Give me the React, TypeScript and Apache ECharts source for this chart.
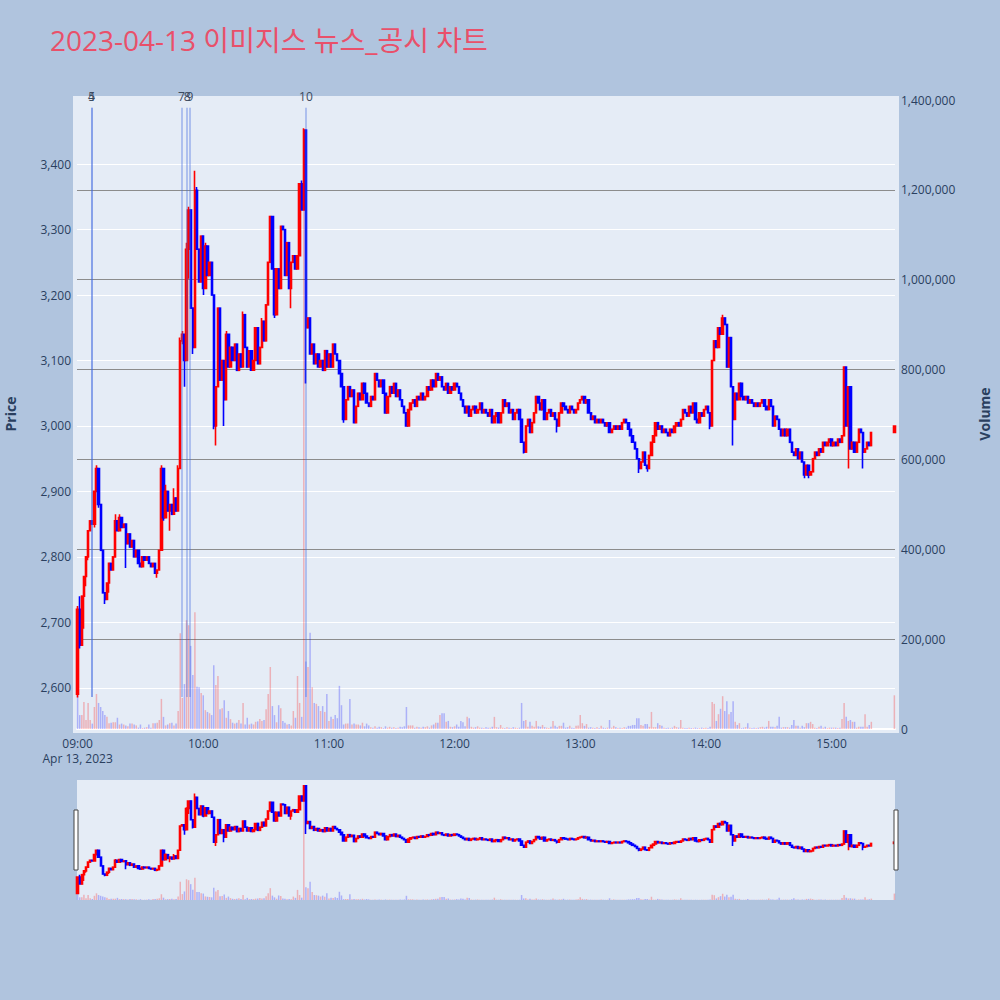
import React, { useEffect, useRef } from "react";
import * as echarts from "echarts";

// ---- session data (1-minute bars, minute 0 = 09:00) ----
const TITLE = "2023-04-13 이미지스 뉴스_공시 차트";
const SESSION_DATE = "Apr 13, 2023";
const FIRST_OPEN = 2590;

// closing price of every minute from 09:00 to 15:19
const CLOSES = [
  2720, 2665, 2740, 2770, 2800, 2840, 2855, 2850, 2900, 2935,
  2880, 2810, 2745, 2735, 2760, 2790, 2780, 2800, 2855, 2840,
  2860, 2845, 2850, 2820, 2835, 2815, 2825, 2800, 2810, 2790,
  2785, 2800, 2795, 2800, 2790, 2785, 2790, 2775, 2780, 2810,
  2935, 2860, 2900, 2870, 2880, 2865, 2890, 2870, 2935, 3130,
  3140, 3100, 3270, 3330, 3180, 3120, 3360, 3270, 3220, 3290,
  3210, 3275, 3230, 3250, 3200, 3000, 3060, 3180, 3070, 3100,
  3040, 3140, 3090, 3120, 3100, 3125, 3085, 3110, 3090, 3170,
  3120, 3090, 3115, 3085, 3100, 3150, 3095, 3120, 3160, 3130,
  3185, 3250, 3320, 3240, 3170, 3240, 3210, 3305, 3300, 3230,
  3280, 3210, 3250, 3260, 3240, 3260, 3370, 3330, 3452, 3150,
  3165, 3110, 3125, 3095, 3110, 3090, 3100, 3085, 3115, 3090,
  3110, 3090, 3125, 3110, 3100, 3080, 3060, 3010, 3040, 3060,
  3045, 3055, 3005, 3030, 3050, 3040, 3065, 3050, 3035, 3030,
  3045, 3040, 3080, 3070, 3060, 3070, 3050, 3020, 3045, 3060,
  3050, 3065, 3045, 3055, 3040, 3030, 3020, 3000, 3025, 3035,
  3040, 3030, 3045, 3040, 3050, 3040, 3045, 3060, 3055, 3070,
  3060, 3080, 3070, 3075, 3060, 3055, 3065, 3050, 3060, 3055,
  3065, 3060, 3050, 3040, 3030, 3020, 3030, 3015, 3025, 3030,
  3020, 3025, 3035, 3020, 3025, 3020, 3015, 3025, 3005, 3015,
  3020, 3005, 3020, 3040, 3030, 3035, 3020, 3025, 3010, 3020,
  3025, 3010, 2975, 2960, 3000, 3010, 2990, 3005, 3020, 3045,
  3035, 3025, 3040, 3010, 3020, 3025, 3015, 3020, 3010, 3000,
  3020, 3035, 3030, 3025, 3020, 3030, 3025, 3020, 3025, 3035,
  3040, 3045, 3035, 3040, 3020, 3010, 3015, 3005, 3010, 3005,
  3010, 3005, 3000, 3005, 2990, 2995, 3000, 2995, 3000, 2995,
  3005, 3010, 3005, 2995, 2985, 2975, 2965, 2950, 2935, 2945,
  2960, 2940, 2935, 2955, 2975, 2985, 3005, 2995, 3000, 2990,
  2995, 2990, 2985, 2995, 2990, 3000, 3005, 3000, 3010, 3025,
  3020, 3015, 3030, 3020, 3035, 3010, 3005, 3020, 3015, 3025,
  3030, 3020, 3000, 3100, 3130, 3120, 3150, 3140, 3165, 3155,
  3090, 3135, 3060, 3010, 3050, 3040, 3065, 3045, 3040, 3045,
  3035, 3040, 3035, 3030, 3035, 3030, 3035, 3040, 3030, 3025,
  3040, 3030, 3000, 3015, 3010, 2995, 2985, 2995, 2985, 2995,
  2975, 2960, 2955, 2965, 2950, 2960, 2945, 2925, 2940, 2925,
  2930, 2950, 2960, 2955, 2965, 2960, 2975, 2970, 2975, 2980,
  2970, 2975, 2970, 2980, 2975, 2985, 3090, 3000, 3060, 2965,
  2975, 2960, 2975, 2995, 2990, 2960, 2965, 2975, 2970, 2990,
];

// traded volume of every minute, in thousands of shares
const VOLUMES_K = [
  75, 31, 31, 60, 20, 58, 20, 12, 49, 78,
  58, 49, 40, 31, 27, 13, 14, 15, 15, 25,
  10, 12, 10, 8, 6, 12, 12, 10, 8, 3,
  10, 2, 3, 4, 10, 3, 13, 13, 14, 20,
  67, 27, 8, 10, 13, 14, 8, 12, 40, 213,
  69, 100, 242, 231, 185, 120, 260, 94, 93, 80,
  75, 42, 38, 35, 31, 142, 98, 118, 44, 46,
  64, 25, 40, 22, 14, 12, 14, 20, 12, 58,
  10, 25, 10, 12, 10, 16, 17, 22, 18, 20,
  44, 78, 138, 51, 31, 15, 53, 46, 18, 14,
  10, 11, 8, 40, 25, 118, 58, 27, 1333, 150,
  138, 214, 93, 58, 56, 51, 40, 51, 38, 78,
  18, 27, 22, 31, 24, 96, 53, 10, 12, 12,
  67, 10, 12, 10, 10, 8, 14, 6, 12, 8,
  4, 3, 6, 3, 5, 4, 2, 6, 3, 5,
  3, 4, 2, 3, 5, 4, 6, 49, 8, 8,
  8, 3, 5, 4, 3, 5, 4, 6, 3, 8,
  10, 14, 14, 31, 35, 35, 16, 18, 5, 4,
  6, 10, 5, 18, 15, 6, 27, 24, 5, 3,
  4, 6, 3, 3, 2, 4, 3, 3, 5, 27,
  4, 3, 9, 3, 2, 4, 3, 2, 4, 3,
  2, 3, 58, 18, 20, 5, 16, 7, 5, 18,
  6, 5, 9, 4, 3, 2, 5, 18, 7, 4,
  7, 7, 14, 3, 4, 7, 3, 2, 7, 8,
  31, 13, 7, 11, 3, 4, 3, 2, 4, 2,
  7, 3, 2, 3, 20, 3, 7, 4, 2, 3,
  2, 4, 3, 7, 7, 9, 9, 24, 24, 9,
  7, 11, 11, 5, 38, 4, 4, 13, 9, 7,
  3, 2, 3, 2, 3, 7, 4, 3, 20, 3,
  2, 2, 3, 2, 2, 3, 2, 2, 3, 2,
  3, 2, 5, 60, 56, 18, 33, 45, 73, 40,
  62, 33, 38, 62, 16, 9, 13, 2, 3, 4,
  13, 3, 2, 3, 2, 3, 4, 5, 3, 5,
  18, 5, 5, 4, 7, 27, 3, 4, 4, 4,
  3, 9, 20, 7, 7, 3, 7, 4, 13, 13,
  16, 11, 3, 2, 5, 7, 3, 5, 2, 3,
  3, 3, 3, 2, 3, 22, 58, 27, 18, 20,
  16, 16, 3, 5, 5, 5, 33, 5, 9, 16,
];

// closing single-price auction at 15:30
const CLOSING_MINUTE = 390;
const CLOSING_PRICE = 3000;
const CLOSING_VOLUME_K = 75;

// [minute, low, high] for bars whose shadows reach past the body
const WICKS = [
  [0, 2585, 2725], [1, 2660, 2740], [3, 2690, 2770], [4, 2755, 2800], [5, 2795, 2840],
  [8, 2845, 2900], [9, 2900, 2940], [10, 2875, 2935], [13, 2728, 2745], [15, 2745, 2790],
  [18, 2800, 2865], [20, 2840, 2865], [23, 2783, 2845], [38, 2768, 2780], [40, 2810, 2940],
  [41, 2855, 2935], [42, 2860, 2910], [44, 2840, 2880], [46, 2865, 2905], [48, 2875, 2940],
  [49, 2935, 3135], [50, 3125, 3145], [51, 3060, 3140], [52, 3100, 3280], [53, 3225, 3335],
  [54, 3180, 3330], [55, 3110, 3180], [56, 3120, 3390], [57, 3270, 3365], [60, 3200, 3290],
  [61, 3210, 3280], [65, 2995, 3200], [66, 2970, 3060], [67, 3060, 3180], [70, 3000, 3100],
  [71, 3040, 3145], [79, 3090, 3175], [80, 3120, 3170], [88, 3120, 3165], [92, 3250, 3320],
  [94, 3165, 3240], [102, 3180, 3250], [106, 3260, 3370], [107, 3330, 3375], [108, 3330, 3455],
  [109, 3065, 3452], [127, 3005, 3060], [212, 2975, 3010], [213, 2958, 2975], [229, 2990, 3010],
  [268, 2928, 2950], [272, 2930, 2940], [302, 2995, 3020], [308, 3140, 3170], [313, 2970, 3060],
  [347, 2920, 2945], [349, 2920, 2940], [366, 2985, 3090], [367, 3000, 3090], [368, 2935, 3060],
  [375, 2935, 2990],
];

// disclosure / news items, placed at their release minute
const NEWS = [
  { label: "4", minute: 6.6 },
  { label: "5", minute: 6.75 },
  { label: "7", minute: 49.6 },
  { label: "8", minute: 52.3 },
  { label: "9", minute: 53.6 },
  { label: "10", minute: 109 },
];
const NEWS_LINE_LOW = 2586;
const NEWS_LINE_HIGH = 3486;

const PRICE_TICKS = [2600, 2700, 2800, 2900, 3000, 3100, 3200, 3300, 3400];
const VOLUME_TICKS = [0, 200000, 400000, 600000, 800000, 1000000, 1200000, 1400000];
const VOLUME_GRID = [200000, 400000, 600000, 800000, 1000000, 1200000];
const HOUR_TICKS = [0, 60, 120, 180, 240, 300, 360];

const PRICE_RANGE: [number, number] = [2537, 3498];
const VOLUME_RANGE: [number, number] = [0, 1400000];
const MINUTE_RANGE: [number, number] = [-0.3, 390.3];

const UP = "#ff0000";
const DOWN = "#0000ff";
const UP_VOL = "rgba(255,0,0,0.25)";
const DOWN_VOL = "rgba(0,0,255,0.25)";
const INK = "#2a3f5f";
const FONT = '"Open Sans", "Noto Sans CJK KR", sans-serif';

const hhmm = (m: number) => {
  const t = 9 * 60 + m;
  const h = Math.floor(t / 60);
  const mm = t % 60;
  return `${String(h).padStart(2, "0")}:${String(mm).padStart(2, "0")}`;
};

function buildSeriesData() {
  const minutes = CLOSES.map((_, i) => i).concat([CLOSING_MINUTE]);
  const closes = CLOSES.concat([CLOSING_PRICE]);
  const vols = VOLUMES_K.concat([CLOSING_VOLUME_K]);
  const wick = new Map<number, number[]>();
  WICKS.forEach((w) => wick.set(w[0], w));
  const candles: number[][] = [];
  const volumes: any[] = [];
  closes.forEach((c, i) => {
    const o = i === 0 ? FIRST_OPEN : closes[i - 1];
    const w = wick.get(minutes[i]);
    const lo = Math.min(o, c, w ? w[1] : Infinity);
    const hi = Math.max(o, c, w ? w[2] : -Infinity);
    candles.push([minutes[i], o, c, lo, hi]);
    volumes.push({
      value: [minutes[i], vols[i] * 1000],
      itemStyle: { color: i > 0 && c >= o ? UP_VOL : DOWN_VOL },
    });
  });
  return { candles, volumes };
}

export default function App() {
  const ref = useRef<HTMLDivElement>(null);

  useEffect(() => {
    if (!ref.current) return;
    const chart = echarts.init(ref.current, undefined, { renderer: "svg" });
    const { candles, volumes } = buildSeriesData();

    const candleStyle = {
      color: UP,
      color0: DOWN,
      borderColor: UP,
      borderColor0: DOWN,
      borderWidth: 1.6,
    };

    const option: any = {
      animation: false,
      backgroundColor: "#b0c4de",
      textStyle: { fontFamily: FONT },
      grid: [
        { left: 77, top: 100, width: 818, height: 629 },
        { left: 77, top: 780, width: 818, height: 120 },
      ],
      xAxis: [
        {
          type: "value",
          gridIndex: 0,
          min: MINUTE_RANGE[0],
          max: MINUTE_RANGE[1],
          axisLine: { show: true, onZero: false, lineStyle: { color: "#ffffff", width: 2 } },
          axisTick: { show: false, customValues: HOUR_TICKS },
          splitLine: { show: false },
          axisLabel: {
            customValues: HOUR_TICKS,
            formatter: (v: number) => (v === 0 ? `${hhmm(v)}\n${SESSION_DATE}` : hhmm(v)),
            color: INK,
            fontSize: 12,
            fontFamily: FONT,
            lineHeight: 15,
            margin: 7,
          },
        },
        {
          type: "value",
          gridIndex: 1,
          min: MINUTE_RANGE[0],
          max: MINUTE_RANGE[1],
          show: false,
        },
      ],
      yAxis: [
        {
          type: "value",
          gridIndex: 0,
          position: "left",
          min: PRICE_RANGE[0],
          max: PRICE_RANGE[1],
          axisLine: { show: false },
          axisTick: { show: false, customValues: PRICE_TICKS },
          splitLine: { show: true, lineStyle: { color: "#ffffff", width: 1 } },
          axisLabel: {
            customValues: PRICE_TICKS,
            formatter: (v: number) => v.toLocaleString("en-US"),
            color: INK,
            fontSize: 12,
            fontFamily: FONT,
            margin: 6,
          },
        },
        {
          type: "value",
          gridIndex: 0,
          position: "right",
          min: VOLUME_RANGE[0],
          max: VOLUME_RANGE[1],
          axisLine: { show: false },
          axisTick: { show: false, customValues: VOLUME_GRID },
          splitLine: { show: true, lineStyle: { color: "#8c8c8c", width: 1.2 } },
          axisLabel: {
            customValues: VOLUME_TICKS,
            formatter: (v: number) => v.toLocaleString("en-US"),
            color: INK,
            fontSize: 12,
            fontFamily: FONT,
            margin: 6,
          },
        },
        { type: "value", gridIndex: 1, min: PRICE_RANGE[0], max: PRICE_RANGE[1], show: false },
        { type: "value", gridIndex: 1, min: VOLUME_RANGE[0], max: VOLUME_RANGE[1], show: false },
      ],
      graphic: [
        {
          type: "rect",
          z: -1,
          silent: true,
          shape: { x: 73, y: 96, width: 826, height: 637 },
          style: { fill: "#e5ecf6" },
        },
        {
          type: "rect",
          z: -1,
          silent: true,
          shape: { x: 77, y: 780, width: 818, height: 120 },
          style: { fill: "#e5ecf6" },
        },
        {
          type: "rect",
          z: 20,
          silent: true,
          shape: { x: 74, y: 810, width: 4, height: 60 },
          style: { fill: "#ffffff", stroke: "#444444", lineWidth: 1 },
        },
        {
          type: "rect",
          z: 20,
          silent: true,
          shape: { x: 894, y: 810, width: 4, height: 60 },
          style: { fill: "#ffffff", stroke: "#444444", lineWidth: 1 },
        },
        {
          type: "text",
          x: 50,
          y: 40,
          style: {
            text: TITLE,
            fill: "#e9506a",
            font: `28px ${FONT}`,
            align: "left",
            verticalAlign: "middle",
            textAlign: "left",
            textVerticalAlign: "middle",
          },
        },
        {
          type: "text",
          x: 10,
          y: 414,
          rotation: Math.PI / 2,
          style: {
            text: "Price",
            fill: INK,
            font: `bold 14px ${FONT}`,
            align: "center",
            verticalAlign: "middle",
            textAlign: "center",
            textVerticalAlign: "middle",
          },
        },
        {
          type: "text",
          x: 984,
          y: 414,
          rotation: Math.PI / 2,
          style: {
            text: "Volume",
            fill: INK,
            font: `bold 14px ${FONT}`,
            align: "center",
            verticalAlign: "middle",
            textAlign: "center",
            textVerticalAlign: "middle",
          },
        },
      ],
      series: [
        {
          name: "Volume",
          type: "bar",
          xAxisIndex: 0,
          yAxisIndex: 1,
          data: volumes,
          barWidth: 1.5,
          silent: true,
          z: 1,
        },
        {
          name: "Price",
          type: "candlestick",
          xAxisIndex: 0,
          yAxisIndex: 0,
          data: candles,
          encode: { x: 0, y: [1, 2, 3, 4] },
          barWidth: 1.8,
          clip: false,
          silent: true,
          z: 2,
          itemStyle: candleStyle,
          markLine: {
            silent: true,
            symbol: ["none", "none"],
            animation: false,
            lineStyle: { color: "rgba(65,105,225,0.45)", width: 1.5, type: "solid" },
            label: {
              show: true,
              position: "end",
              formatter: "{b}",
              color: "#3b4a5f",
              fontSize: 12,
              fontFamily: FONT,
              distance: 5,
            },
            data: NEWS.map((n) => [
              { name: n.label, coord: [n.minute, NEWS_LINE_LOW] },
              { coord: [n.minute, NEWS_LINE_HIGH] },
            ]),
          },
        },
        {
          name: "VolumeOverview",
          type: "bar",
          xAxisIndex: 1,
          yAxisIndex: 3,
          data: volumes,
          barWidth: 1.5,
          silent: true,
          z: 1,
        },
        {
          name: "PriceOverview",
          type: "candlestick",
          xAxisIndex: 1,
          yAxisIndex: 2,
          data: candles,
          encode: { x: 0, y: [1, 2, 3, 4] },
          barWidth: 1.8,
          silent: true,
          z: 2,
          itemStyle: candleStyle,
        },
      ],
    };

    chart.setOption(option);
    return () => chart.dispose();
  }, []);

  return (
    <div
      ref={ref}
      style={{ position: "absolute", left: 0, top: 0, width: 1000, height: 1000 }}
    />
  );
}
